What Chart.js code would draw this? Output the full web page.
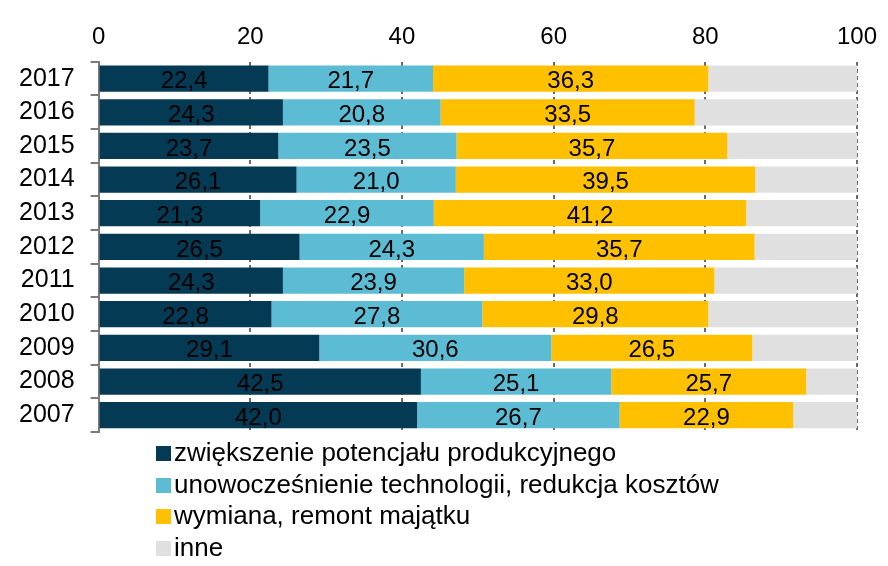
<!DOCTYPE html>
<html>
<head>
<meta charset="utf-8">
<script src="https://cdn.jsdelivr.net/npm/chart.js@4/dist/chart.umd.min.js"></script>
<style>
  html, body { margin: 0; padding: 0; background: #fff; }
  #wrap { position: relative; width: 888px; height: 566px; }
  #legend { position: absolute; left: 156px; top: 437px; font-family: "Liberation Sans", Arial, sans-serif; font-size: 26px; color: #000; }
  #legend div { height: 31.5px; line-height: 31.5px; white-space: nowrap; }
  #legend span.box { display: inline-block; width: 15px; height: 15px; margin-right: 3px; vertical-align: 0px; }
</style>
</head>
<body>
<div id="wrap">
  <canvas id="c" width="888" height="566"></canvas>
  <div id="legend"></div>
</div>
<script>
const years = ['2017','2016','2015','2014','2013','2012','2011','2010','2009','2008','2007'];
const seriesNames = ['zwiększenie potencjału produkcyjnego','unowocześnienie technologii, redukcja kosztów','wymiana, remont majątku','inne'];
const zwiekszenie = [22.4, 24.3, 23.7, 26.1, 21.3, 26.5, 24.3, 22.8, 29.1, 42.5, 42.0];
const unowoczesnienie = [21.7, 20.8, 23.5, 21.0, 22.9, 24.3, 23.9, 27.8, 30.6, 25.1, 26.7];
const wymiana = [36.3, 33.5, 35.7, 39.5, 41.2, 35.7, 33.0, 29.8, 26.5, 25.7, 22.9];
const inne = [19.6, 21.4, 17.1, 13.4, 14.6, 13.5, 18.8, 19.6, 13.8, 6.7, 8.4];
const xTicks = [0, 20, 40, 60, 80, 100];
const colors = ['#053A55', '#5CBCD4', '#FFC000', '#E0E0E0'];

const FONT = '"Liberation Sans", Arial, sans-serif';

const labelPlugin = {
  id: 'valueLabels',
  afterDatasetsDraw(chart) {
    const ctx = chart.ctx;
    ctx.save();
    ctx.font = '24px ' + FONT;
    ctx.fillStyle = '#000';
    ctx.textAlign = 'center';
    ctx.textBaseline = 'middle';
    chart.data.datasets.forEach((ds, di) => {
      if (di > 2) return;
      const meta = chart.getDatasetMeta(di);
      meta.data.forEach((el, i) => {
        const p = el.getProps(['x', 'y', 'base'], true);
        const cx = (p.x + p.base) / 2;
        ctx.fillText(ds.data[i].toFixed(1).replace('.', ','), cx, p.y + 3);
      });
    });
    ctx.restore();
  }
};

const datasets = [zwiekszenie, unowoczesnienie, wymiana, inne].map((d, i) => ({
  label: seriesNames[i],
  data: d,
  backgroundColor: colors[i],
  borderWidth: 0,
  categoryPercentage: 1,
  barPercentage: 0.78
}));

new Chart(document.getElementById('c'), {
  type: 'bar',
  data: { labels: years, datasets },
  options: {
    indexAxis: 'y',
    responsive: false,
    animation: false,
    layout: { padding: { top: 13, right: 31, bottom: 134, left: 3 } },
    plugins: { legend: { display: false }, tooltip: { enabled: false } },
    scales: {
      x: {
        position: 'top',
        stacked: true,
        min: 0, max: 100,
        afterBuildTicks(scale) { scale.ticks = xTicks.map(v => ({ value: v })); },
        ticks: { color: '#000', font: { family: FONT, size: 24 }, padding: 10 },
        grid: { color: '#6a6a6a', lineWidth: 2, drawTicks: false, tickLength: 0 },
        border: { display: false, dash: [4, 3] }
      },
      y: {
        stacked: true,
        ticks: { color: '#000', font: { family: FONT, size: 25 }, padding: 16 },
        grid: { drawOnChartArea: false, color: '#7a7a7a', lineWidth: 2, tickLength: 8, offset: true },
        border: { display: true, color: '#7a7a7a', width: 2 }
      }
    }
  },
  plugins: [labelPlugin]
});

const lg = document.getElementById('legend');
seriesNames.forEach((n, i) => {
  const row = document.createElement('div');
  const b = document.createElement('span');
  b.className = 'box';
  b.style.background = colors[i];
  row.appendChild(b);
  row.appendChild(document.createTextNode(n));
  lg.appendChild(row);
});
</script>
</body>
</html>
